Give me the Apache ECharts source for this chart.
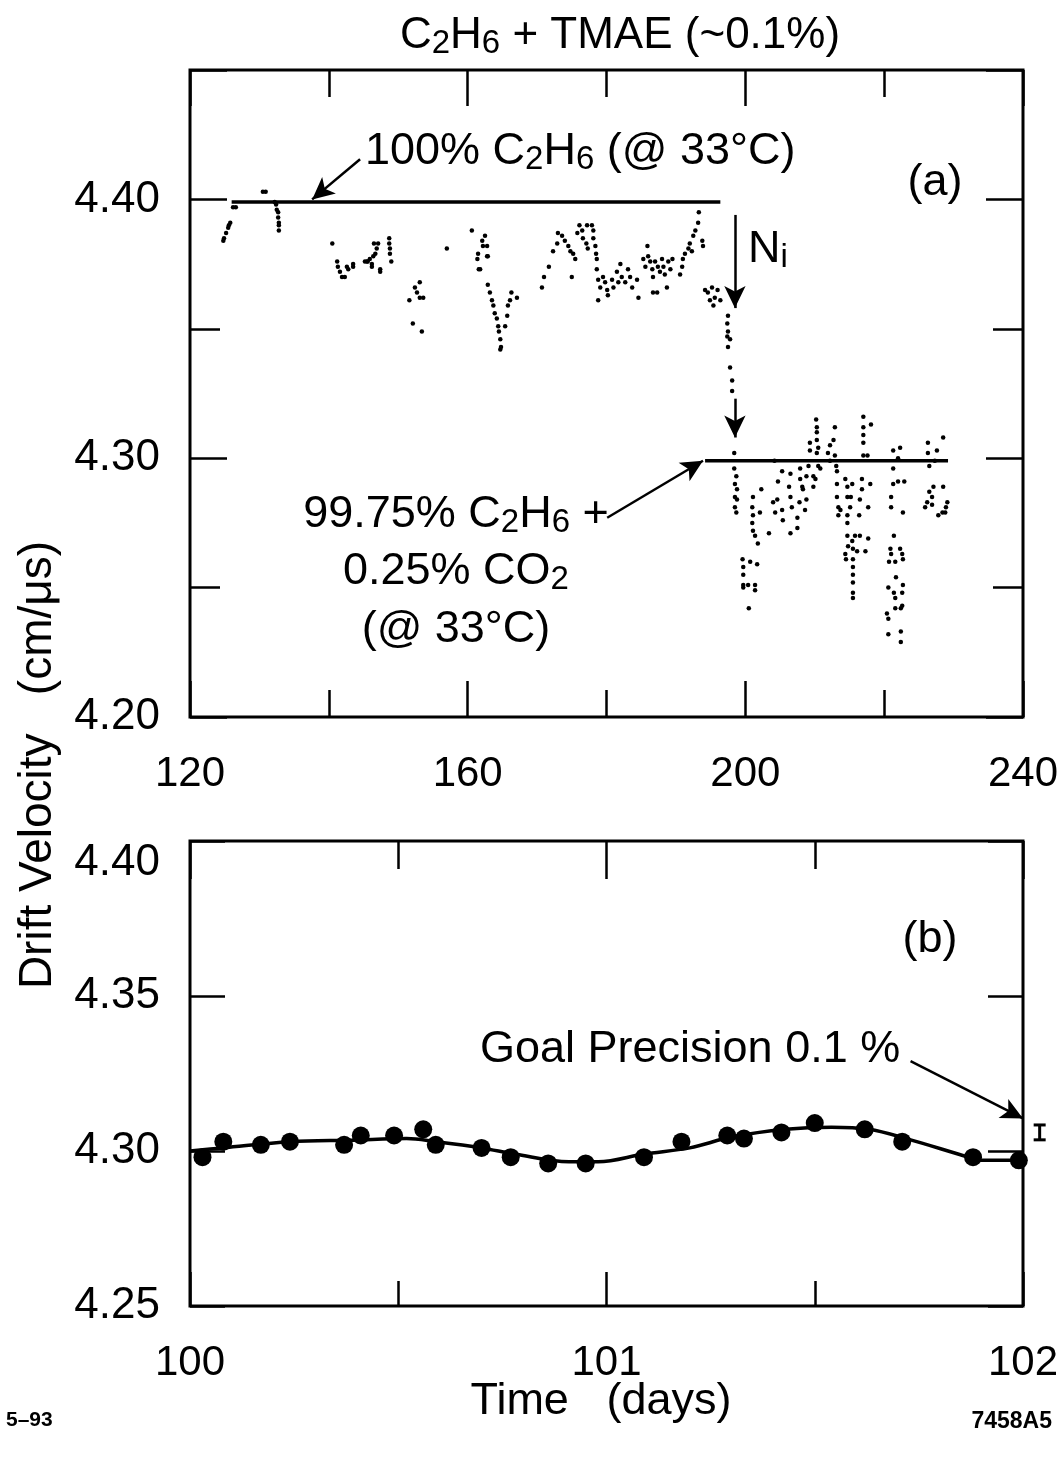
<!DOCTYPE html>
<html><head><meta charset="utf-8">
<script src="https://cdn.jsdelivr.net/npm/echarts@6/dist/echarts.min.js"></script>
<style>html,body{margin:0;padding:0;background:#fff}#c{width:1062px;height:1458px}</style>
</head><body><div id="c"></div>
<script>
// ---------------- DATA ----------------
// Panel (a): x ticks/labels and y labels
const xLabelsA = [120, 160, 200, 240];
const yLabelsA = [4.20, 4.30, 4.40];
// Panel (b)
const xLabelsB = [100, 101, 102];
const yLabelsB = [4.25, 4.30, 4.35, 4.40];

// Panel (a) scatter readings [day, drift velocity]
const ptsA1 = [[124.8,4.384],[124.9,4.385],[125.2,4.387],[125.5,4.389],[125.6,4.390],[125.8,4.391],[126.2,4.397],[126.6,4.397],
 [130.5,4.403],[130.9,4.403],[132.2,4.399],[132.4,4.398],[132.5,4.396],[132.7,4.395],[132.7,4.393],[132.8,4.391],[132.8,4.390],[132.8,4.388]];
const ptsA2 = [[140.5,4.383],[141.2,4.376],[141.3,4.374],[141.6,4.372],[141.9,4.370],[142.3,4.370],[142.6,4.374],[142.8,4.373],
 [143.5,4.375],[143.5,4.374],[145.2,4.376],[145.5,4.376],[145.6,4.376],[145.9,4.377],[146.2,4.375],[146.2,4.374],[146.4,4.378],
 [146.7,4.379],[146.9,4.381],[146.5,4.383],[147.1,4.383],[147.4,4.373],[147.4,4.372],[148.7,4.385],[148.7,4.383],[148.8,4.381],
 [148.8,4.379],[149.0,4.376]];
const ptsA3 = [[153.1,4.368],[152.4,4.366],[152.7,4.364],[153.1,4.362],[153.6,4.362],[151.6,4.361],[152.1,4.352],[153.4,4.349],[157.0,4.381]];
const ptsA4 = [[160.6,4.388],[162.5,4.386],[162.1,4.384],[162.2,4.382],[161.5,4.379],[161.4,4.377],[162.8,4.378],[161.6,4.373],
 [161.8,4.373],[162.8,4.382],[162.9,4.378],[162.9,4.367],[163.2,4.364],[163.5,4.361],[163.7,4.359],[163.9,4.356],[164.2,4.354],
 [164.4,4.351],[164.5,4.349],[164.7,4.346],[164.8,4.343],[164.7,4.342],[165.4,4.351],[165.7,4.355],[165.8,4.359],[166.1,4.361],
 [166.3,4.364],[167.1,4.362]];
const ptsA5 = [[170.7,4.366],[171.0,4.370],[171.7,4.374],[172.3,4.380],[172.9,4.383],[173.0,4.387],[173.6,4.386],[174.0,4.384],
 [174.5,4.382],[174.8,4.380],[175.2,4.379],[175.5,4.377],[175.8,4.387],[176.1,4.390],[176.5,4.388],[176.6,4.385],[177.1,4.383],
 [177.3,4.381],[177.2,4.390],[177.9,4.390],[178.1,4.388],[178.1,4.385],[178.4,4.382],[178.5,4.379],[178.6,4.377],[175.0,4.370]];
const ptsA6 = [[178.6,4.373],[178.8,4.369],[179.1,4.366],[178.8,4.361],[179.5,4.370],[179.8,4.368],[180.1,4.365],[180.2,4.363],
 [180.8,4.369],[181.0,4.366],[181.5,4.372],[181.7,4.368],[182.0,4.375],[182.2,4.370],[182.7,4.368],[183.1,4.373],[183.4,4.370],
 [183.7,4.366],[184.4,4.369],[184.6,4.362]];
const ptsA7 = [[185.3,4.377],[185.6,4.374],[185.9,4.382],[186.0,4.378],[186.3,4.376],[186.6,4.373],[186.7,4.370],[186.7,4.364],
 [187.3,4.364],[187.0,4.376],[187.4,4.374],[187.7,4.372],[188.0,4.377],[188.2,4.374],[188.4,4.371],[188.7,4.366],[188.9,4.376],
 [189.2,4.373],[189.5,4.377],[190.6,4.371],[190.9,4.374],[191.0,4.377],[191.3,4.379],[191.8,4.381],[192.0,4.383],[192.5,4.386],
 [192.8,4.388],[193.2,4.391],[193.3,4.395],[193.8,4.384],[193.9,4.382],[192.3,4.380]];
const ptsA8 = [[194.2,4.365],[194.6,4.364],[195.2,4.366],[195.6,4.362],[196.0,4.365],[196.4,4.361],[194.9,4.361],[195.4,4.359],
 [197.5,4.355],[197.4,4.352],[197.5,4.349],[197.4,4.347],[197.8,4.346],[197.5,4.343],[197.8,4.335],[198.1,4.330],[198.1,4.326]];
const ptsA9 = [[198.4,4.302],[198.4,4.296],[198.7,4.293],[198.5,4.290],[198.8,4.288],[198.5,4.285],[198.8,4.284],[198.5,4.281],
 [198.7,4.279],[201.1,4.285],[201.0,4.281],[201.1,4.278],[201.0,4.275],[201.1,4.272],[201.4,4.270],[201.8,4.267],[202.1,4.279],
 [202.3,4.288],[199.6,4.261],[200.7,4.260],[201.7,4.259],[199.7,4.258],[199.7,4.255],[199.7,4.251],[200.4,4.251],[201.4,4.251],
 [199.7,4.250],[201.4,4.249],[200.5,4.242],[203.4,4.271]];
const ptsA10 = [[204.2,4.299],[205.3,4.295],[204.7,4.291],[204.0,4.283],[204.6,4.284],[204.3,4.279],[205.4,4.276],[205.3,4.280],
 [206.5,4.294],[206.3,4.289],[206.5,4.285],[206.7,4.281],[206.5,4.271],[207.5,4.273],[207.5,4.277],[207.9,4.296],[207.9,4.292],
 [208.2,4.289],[208.3,4.288],[208.8,4.284],[208.6,4.280],[208.8,4.293],[207.8,4.283],[209.3,4.306],[209.3,4.303],[209.1,4.297],
 [209.8,4.293],[209.8,4.289],[210.2,4.315],[210.3,4.312],[210.3,4.310],[210.3,4.307],[210.5,4.304],[210.3,4.302],[210.5,4.297],
 [210.1,4.292],[210.8,4.296],[211.9,4.302],[212.2,4.305],[212.7,4.307],[212.9,4.312],[212.9,4.301],[213.2,4.295],[213.1,4.297],
 [212.2,4.299]];
const ptsA11 = [[213.2,4.290],[213.2,4.285],[213.4,4.281],[213.4,4.278],[213.7,4.280],[214.4,4.292],[214.7,4.289],[214.7,4.285],
 [214.7,4.278],[214.7,4.275],[214.7,4.270],[214.4,4.263],[214.5,4.261],[214.8,4.266],[215.4,4.268],[215.5,4.265],[215.8,4.270],
 [216.1,4.264],[215.5,4.261],[215.5,4.258],[215.5,4.255],[215.5,4.252],[215.5,4.248],[215.5,4.246],[216.5,4.270],[217.3,4.264],
 [217.7,4.269],[215.4,4.290],[215.2,4.285],[215.1,4.281],[216.8,4.292],[216.8,4.288],[216.5,4.284],[216.4,4.278],[217.7,4.281],
 [218.0,4.290],[217.0,4.316],[218.1,4.313],[217.0,4.312],[217.0,4.309],[217.0,4.306],[217.0,4.301],[217.6,4.301]];
const ptsA12 = [[221.3,4.303],[222.3,4.304],[221.3,4.296],[221.3,4.290],[222.0,4.291],[222.9,4.291],[221.0,4.285],[221.0,4.281],
 [222.7,4.279],[222.0,4.300],[221.4,4.270],[220.9,4.265],[221.0,4.263],[222.3,4.265],[222.6,4.263],[220.7,4.260],[221.6,4.260],
 [222.7,4.261],[221.7,4.254],[220.6,4.250],[221.4,4.248],[221.6,4.246],[222.7,4.251],[222.6,4.248],[220.4,4.240],[221.6,4.242],
 [222.6,4.243],[220.6,4.238],[222.4,4.242],[220.6,4.232],[222.4,4.233],[222.4,4.229]];
const ptsA13 = [[226.3,4.306],[227.6,4.303],[226.3,4.302],[226.5,4.297],[227.3,4.299],[228.5,4.308],[227.1,4.289],[226.5,4.287],
 [226.9,4.285],[226.2,4.283],[226.9,4.282],[225.9,4.281],[228.5,4.289],[229.1,4.283],[228.9,4.281],[228.8,4.279],[228.4,4.279],
 [227.8,4.278]];

// Panel (a) reference levels [day, value]
const refC2H6 = [[126.0, 4.399], [196.4, 4.399]];
const refCO2 = [[194.2, 4.299], [229.2, 4.299]];

// Panel (b) measurements and smooth fit
const ptsB = [[100.03,4.298],[100.08,4.303],[100.17,4.302],[100.24,4.303],[100.37,4.302],[100.41,4.305],[100.49,4.305],
 [100.56,4.307],[100.59,4.302],[100.70,4.301],[100.77,4.298],[100.86,4.296],[100.95,4.296],[101.09,4.298],[101.18,4.303],
 [101.29,4.305],[101.33,4.304],[101.42,4.306],[101.50,4.309],[101.62,4.307],[101.71,4.303],[101.88,4.298],[101.99,4.297]];
const fitB = [[100.0,4.300],[100.08,4.301],[100.24,4.303],[100.39,4.3035],[100.52,4.304],[100.59,4.303],[100.70,4.301],
 [100.78,4.299],[100.91,4.2965],[100.98,4.2965],[101.09,4.299],[101.20,4.301],[101.30,4.3045],[101.43,4.307],[101.54,4.3077],
 [101.63,4.307],[101.72,4.304],[101.87,4.298],[101.90,4.297],[102.0,4.297]];
// Goal precision bar: [day, centre, half-range]
const goalBar = [[102.04, 4.306, 0.0024]];

// Annotation arrows [[x1,y1],[x2,y2]] in data units
const arrowsA = [
  [[144.5, 4.4155], [137.6, 4.4000]],
  [[198.5, 4.394], [198.5, 4.358]],
  [[198.5, 4.323], [198.5, 4.308]],
  [[180.1, 4.277], [193.9, 4.299]]
];
const arrowsB = [[[101.73, 4.329], [102.0, 4.3105]]];

// ---------------- CHART ----------------
const FONT = 'Liberation Sans, Arial, Helvetica, sans-serif';
const chart = echarts.init(document.getElementById('c'), null, {renderer: 'canvas'});
const near = (v, arr) => arr.some(a => Math.abs(a - v) < 1e-6);

function xAxis(grid, min, max, interval, pos, labels, major, minor) {
  return {
    type: 'value', gridIndex: grid, min, max, interval, position: pos,
    axisLine: {show: false}, splitLine: {show: false},
    axisTick: {show: true, inside: true, length: major, lineStyle: {color: '#000', width: 2.5}},
    minorTick: {show: minor > 0, splitNumber: 2, length: minor, lineStyle: {color: '#000', width: 2.5}},
    axisLabel: labels ? {show: true, margin: 36, color: '#000', fontFamily: FONT, fontSize: 42,
      formatter: v => near(v, labels) ? String(Math.round(v)) : ''} : {show: false}
  };
}
function yAxis(grid, min, max, interval, pos, labels, major, minor, extra) {
  return {
    type: 'value', gridIndex: grid, min, max, interval, position: pos,
    axisLine: {show: false}, splitLine: {show: false},
    axisTick: {show: true, inside: true, length: major, lineStyle: {color: '#000', width: 2.5}},
    minorTick: {show: minor > 0, splitNumber: 2, length: minor, lineStyle: {color: '#000', width: 2.5}},
    axisLabel: labels ? Object.assign({show: true, margin: 30, color: '#000', fontFamily: FONT, fontSize: 44,
      formatter: v => near(v, labels) ? v.toFixed(2) : ''}, extra || {}) : {show: false}
  };
}
function arrowMark(list) {
  return {
    silent: true, symbol: ['none', 'arrow'], symbolSize: [16, 22], animation: false,
    lineStyle: {color: '#000', width: 2.5, type: 'solid'}, label: {show: false},
    data: list.map(a => [{coord: a[0]}, {coord: a[1]}])
  };
}
const dotStyle = {color: '#000', opacity: 1};
const scatterA = [ptsA1, ptsA2, ptsA3, ptsA4, ptsA5, ptsA6, ptsA7, ptsA8, ptsA9, ptsA10, ptsA11, ptsA12, ptsA13];

function txt(x, y, text, size, align, extra) {
  const subSize = Math.round(size * 0.74);
  return Object.assign({
    type: 'text', x, y, silent: true,
    style: {text, fontFamily: FONT, fontSize: size, fill: '#000', align: align || 'left', verticalAlign: 'middle',
      rich: {n: {fontSize: size, lineHeight: size + 4, fontFamily: FONT, fill: '#000'},
             s: {fontSize: subSize, lineHeight: Math.round(size * 0.16), verticalAlign: 'bottom', fontFamily: FONT, fill: '#000'}}}
  }, extra || {});
}

const option = {
  animation: false,
  backgroundColor: '#fff',
  grid: [
    {left: 190, top: 70, right: 39, height: 647, show: true, borderColor: '#000', borderWidth: 3, backgroundColor: 'transparent'},
    {left: 190, top: 841, right: 39, height: 465, show: true, borderColor: '#000', borderWidth: 3, backgroundColor: 'transparent'}
  ],
  xAxis: [
    xAxis(0, 120, 240, 40, 'bottom', xLabelsA, 36, 27),
    xAxis(0, 120, 240, 40, 'top', null, 36, 27),
    xAxis(1, 100, 102, 1, 'bottom', xLabelsB, 34, 25),
    xAxis(1, 100, 102, 1, 'top', null, 38, 28)
  ],
  yAxis: [
    yAxis(0, 4.20, 4.45, 0.1, 'left', yLabelsA, 37, 30),
    yAxis(0, 4.20, 4.45, 0.1, 'right', null, 37, 30),
    yAxis(1, 4.25, 4.40, 0.05, 'left', yLabelsB, 35, 0, {verticalAlignMaxLabel: 'top'}),
    yAxis(1, 4.25, 4.40, 0.05, 'right', null, 35, 0)
  ],
  series: [
    {type: 'scatter', xAxisIndex: 0, yAxisIndex: 0, symbolSize: 4.5, itemStyle: dotStyle, data: [].concat(...scatterA), silent: true},
    {type: 'line', xAxisIndex: 0, yAxisIndex: 0, data: refC2H6, symbol: 'none', lineStyle: {color: '#000', width: 3.5}, clip: false,
      markLine: arrowMark(arrowsA)},
    {type: 'line', xAxisIndex: 0, yAxisIndex: 0, data: refCO2, symbol: 'none', lineStyle: {color: '#000', width: 3.5}},
    {type: 'line', xAxisIndex: 2, yAxisIndex: 2, data: fitB, smooth: 0.35, symbol: 'none', lineStyle: {color: '#000', width: 3.5},
      clip: false, markLine: arrowMark(arrowsB)},
    {type: 'scatter', xAxisIndex: 2, yAxisIndex: 2, symbolSize: 18, itemStyle: dotStyle, data: ptsB, silent: true},
    {type: 'custom', xAxisIndex: 2, yAxisIndex: 2, clip: false, data: goalBar, silent: true,
      renderItem: (params, api) => {
        const x = api.value(0), c = api.value(1), h = api.value(2);
        const top = api.coord([x, c + h]), bot = api.coord([x, c - h]);
        const w = 6;
        const st = {stroke: '#000', lineWidth: 3};
        return {type: 'group', children: [
          {type: 'line', shape: {x1: top[0], y1: top[1], x2: bot[0], y2: bot[1]}, style: st},
          {type: 'line', shape: {x1: top[0] - w, y1: top[1], x2: top[0] + w, y2: top[1]}, style: st},
          {type: 'line', shape: {x1: bot[0] - w, y1: bot[1], x2: bot[0] + w, y2: bot[1]}, style: st}
        ]};
      }}
  ],
  graphic: [
    txt(620, 36, '{n|C}{s|2}{n|H}{s|6}{n| + TMAE (~0.1%)}', 44, 'center'),
    txt(365, 152, '{n|100% C}{s|2}{n|H}{s|6}{n| (@ 33°C)}', 45, 'left'),
    txt(935, 183, '(a)', 45, 'center'),
    txt(748, 250, '{n|N}{s|i}', 45, 'left'),
    txt(456, 515, '{n|99.75% C}{s|2}{n|H}{s|6}{n| +}', 45, 'center'),
    txt(456, 572, '{n|0.25% CO}{s|2}', 45, 'center'),
    txt(456, 630, '(@ 33°C)', 45, 'center'),
    txt(930, 940, '(b)', 45, 'center'),
    txt(480, 1050, 'Goal Precision 0.1 %', 45, 'left'),
    txt(601, 1402, 'Time   (days)', 45, 'center'),
    txt(38, 765, 'Drift Velocity   (cm/μs)', 46, 'center', {rotation: Math.PI / 2}),
    {type: 'text', x: 6, y: 1420, silent: true, style: {text: '5–93', fontFamily: FONT, fontSize: 21, fontWeight: 'bold', fill: '#000', verticalAlign: 'middle'}},
    {type: 'text', x: 1052, y: 1422, silent: true, style: {text: '7458A5', fontFamily: FONT, fontSize: 23, fontWeight: 'bold', fill: '#000', align: 'right', verticalAlign: 'middle'}}
  ]
};
chart.setOption(option);
</script></body></html>
